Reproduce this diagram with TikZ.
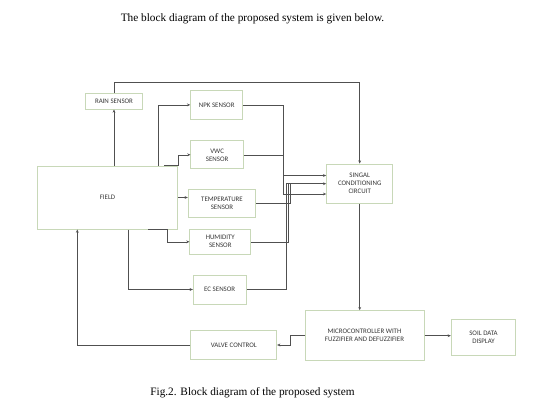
\documentclass[tikz,border=0pt]{standalone}
\usepackage{fontspec}
\setmainfont{Liberation Serif}
\newfontfamily\boxfont{Carlito}
\usetikzlibrary{arrows.meta}
\definecolor{boxgreen}{RGB}{200,216,184}
\definecolor{linegray}{RGB}{80,80,80}
\definecolor{textgray}{RGB}{55,55,55}
\tikzset{
  blk/.style={draw=boxgreen, line width=1pt, fill=white, inner sep=0pt, align=center,
    font=\boxfont\fontsize{6.9}{8}\selectfont, text=textgray},
  conn/.style={draw=linegray, line width=0.6pt},
  arr/.style={conn, -{Stealth[length=3.2pt,width=2.8pt]}},
  captext/.style={font=\fontsize{11.3}{13}\selectfont, text=black}
}
\begin{document}
\begin{tikzpicture}[x=1pt,y=-1pt]
\useasboundingbox (0,0) rectangle (538,405);
\node[captext] (title) at (252.5,18.5) {The block diagram of the proposed system is given below.};
\node[captext] (caption) at (252.5,393) {Fig.2. Block diagram of the proposed system};

\node[blk, minimum width=140.4pt, minimum height=63pt] (field) at (107.5,197.5) {FIELD};
\node[blk, minimum width=56.6pt, minimum height=16pt] (rain) at (114,101) {RAIN SENSOR};
\node[blk, minimum width=52pt, minimum height=28.3pt] (npk) at (216.7,104.9) {NPK SENSOR};
\node[blk, minimum width=52.3pt, minimum height=28.3pt] (vwc) at (217.1,154.8) {VWC\\SENSOR};
\node[blk, minimum width=67.4pt, minimum height=28.3pt] (temp) at (222,203.2) {TEMPERATURE\\SENSOR};
\node[blk, minimum width=60.7pt, minimum height=25pt] (hum) at (220.3,241.8) {HUMIDITY\\SENSOR};
\node[blk, minimum width=52.7pt, minimum height=29pt] (ec) at (219.7,289.5) {EC SENSOR};
\node[blk, minimum width=66pt, minimum height=39.3pt] (singal) at (359.7,183.7) {SINGAL\\CONDITIONING\\CIRCUIT};
\node[blk, minimum width=119pt, minimum height=50pt] (micro) at (364.5,335.7) {MICROCONTROLLER WITH\\FUZZIFIER AND DEFUZZIFIER};
\node[blk, minimum width=64.4pt, minimum height=35.7pt] (soil) at (483.5,337.2) {SOIL DATA\\DISPLAY};
\node[blk, minimum width=85.7pt, minimum height=28.6pt] (valve) at (233.8,345) {VALVE CONTROL};

\coordinate (top) at (359.7,82.3);
\coordinate (npkx) at (158.3,0);
\coordinate (hs) at (148.3,0);
\coordinate (hx) at (167.7,0);
\coordinate (ecx) at (128.3,0);
\coordinate (vx) at (77.3,0);
\coordinate (bx1) at (283.5,0);
\coordinate (bx2) at (286,0);
\coordinate (bx3) at (288.2,0);
\coordinate (bx4) at (290.5,0);
\coordinate (s1) at ([yshift=8.2pt]singal.west);
\coordinate (s2) at (singal.west);
\coordinate (s3) at ([yshift=-10.3pt]singal.west);

% field to sensors
\draw[arr] (field.north -| rain.south) -- (rain.south);
\draw[arr] (rain.north) |- (top) -- (singal.north);
\draw[arr] (field.north -| npkx) |- (npk.west);
\draw[arr] ([xshift=-14pt]field.north east) -- (field.north east) |- (vwc.west);
\draw[arr] (field.east) -- (field.east -| temp.west);
\draw[arr] (field.south -| hs) -- (field.south -| hx) |- (hum.west);
\draw[arr] (field.south -| ecx) |- (ec.west);

% sensors to conditioning
\draw[arr] (npk.east) -| (s1 -| bx1) -- (s1);
\draw[conn] (vwc.east) -- (vwc.east -| bx1);
\draw[arr] (s1 -| bx1) |- (s3);
\draw[arr] (ec.east) -| (s2 -| bx2) -- (s2);
\draw[conn] (hum.east) -| (s2 -| bx3);
\draw[conn] (temp.east) -| (s2 -| bx4);

% processing
\draw[arr] (singal.south) -- (singal.south |- micro.north);
\draw[arr] (micro.east) -- (micro.east -| soil.west);
\draw[arr] (micro.west) -- ++(-14,0) |- (valve.east);
\draw[arr] (valve.west) -| (field.south -| vx);
\end{tikzpicture}
\end{document}
